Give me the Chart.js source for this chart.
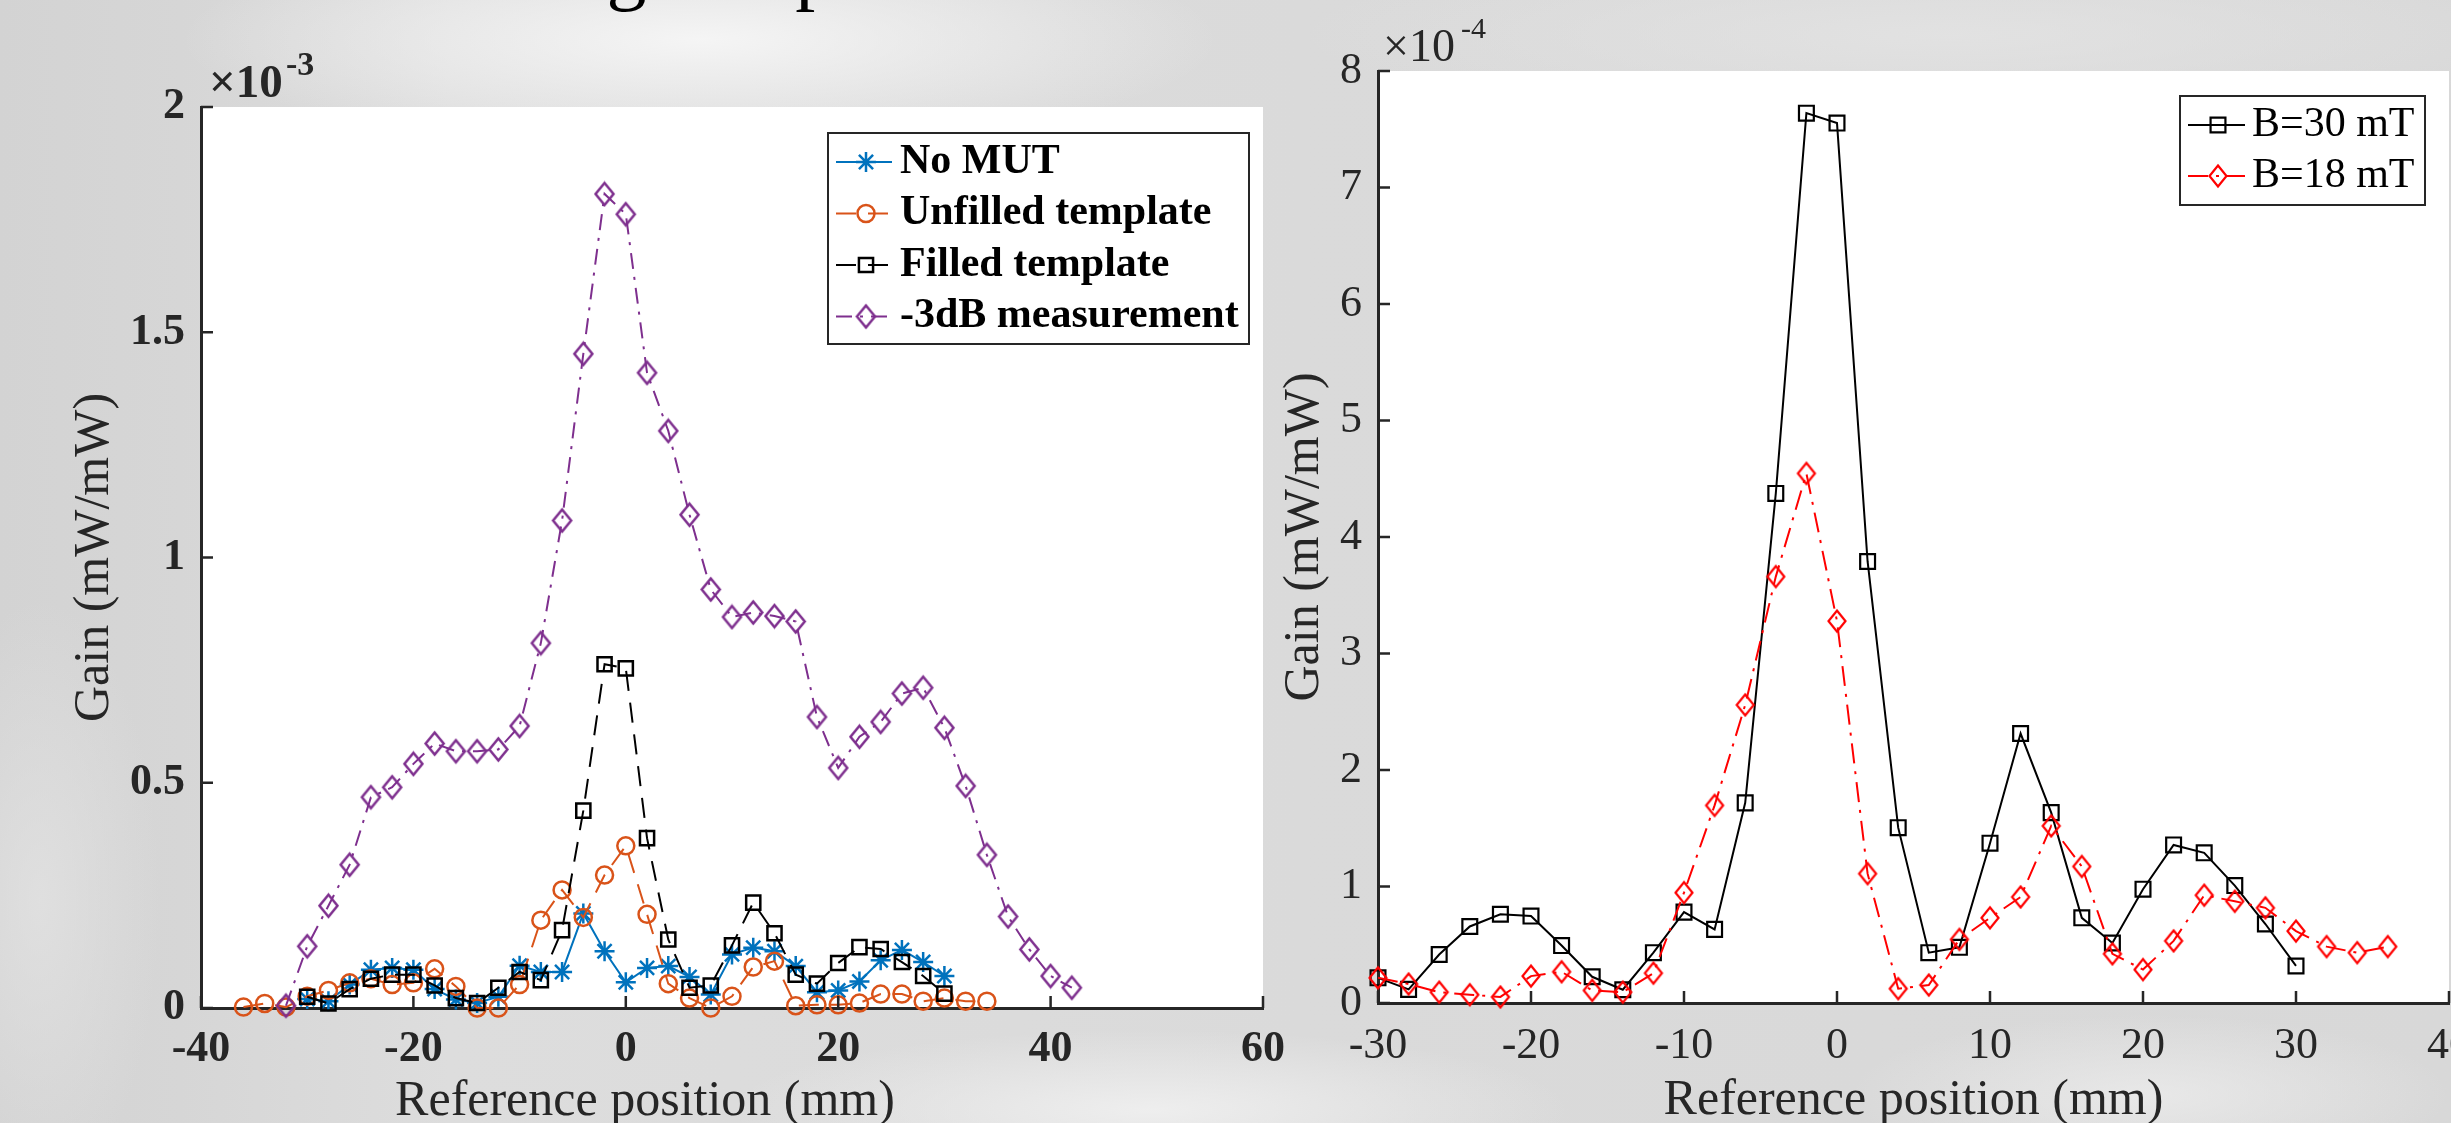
<!DOCTYPE html>
<html>
<head>
<meta charset="utf-8">
<script src="https://cdn.jsdelivr.net/npm/chart.js@4.4.1/dist/chart.umd.min.js"></script>
<style>
  html, body { margin: 0; padding: 0; width: 2451px; height: 1123px; overflow: hidden; }
  body {
    position: relative;
    background:
      radial-gradient(ellipse 520px 110px at 700px 40px, rgba(246,246,246,0.95), rgba(246,246,246,0)),
      radial-gradient(ellipse 420px 80px at 1150px 1110px, rgba(240,240,240,0.9), rgba(240,240,240,0)),
      radial-gradient(ellipse 300px 80px at 2150px 1095px, rgba(236,236,236,0.8), rgba(236,236,236,0)),
      radial-gradient(ellipse 650px 90px at 1950px 35px, rgba(228,228,228,0.8), rgba(228,228,228,0)),
      radial-gradient(ellipse 120px 300px at 40px 900px, rgba(226,226,226,0.8), rgba(226,226,226,0)),
      linear-gradient(90deg, #d3d3d3 0px, #d6d6d6 180px, #dddddd 450px, #dadada 1300px, #d8d8d8 2451px);
  }
  #title { position: absolute; left: 412px; top: -72px; font: 80px "Liberation Serif", serif; line-height: 80px; color: #000; white-space: nowrap; }
  canvas { position: absolute; top: 0; }
  #left { left: 0; }
  #right { left: 1250px; }
</style>
</head>
<body>
<div id="title">Testing setup</div>
<canvas id="left" width="1300" height="1123"></canvas>
<canvas id="right" width="1300" height="1126"></canvas>
<script>
// ---- left panel data (gain in units of 1e-3 mW/mW) ----
var posNoMut = [-30,-28,-26,-24,-22,-20,-18,-16,-14,-12,-10,-8,-6,-4,-2,0,2,4,6,8,10,12,14,16,18,20,22,24,26,28,30];
var gainNoMut = [0.020,0.015,0.052,0.085,0.089,0.085,0.042,0.019,0.011,0.025,0.094,0.080,0.080,0.210,0.126,0.057,0.089,0.093,0.069,0.030,0.119,0.134,0.126,0.093,0.035,0.039,0.059,0.106,0.129,0.102,0.071];

var posUnfilled = [-36,-34,-32,-30,-28,-26,-24,-22,-20,-18,-16,-14,-12,-10,-8,-6,-4,-2,0,2,4,6,8,10,12,14,16,18,20,22,24,26,28,30,32,34];
var gainUnfilled = [0.002,0.010,0.002,0.026,0.039,0.056,0.065,0.052,0.056,0.087,0.048,0.000,0.000,0.052,0.195,0.262,0.201,0.295,0.360,0.208,0.054,0.022,0.000,0.026,0.091,0.104,0.005,0.007,0.007,0.011,0.031,0.031,0.015,0.022,0.015,0.015];

var posFilled = [-30,-28,-26,-24,-22,-20,-18,-16,-14,-12,-10,-8,-6,-4,-2,0,2,4,6,8,10,12,14,16,18,20,22,24,26,28,30];
var gainFilled = [0.025,0.010,0.042,0.065,0.074,0.074,0.050,0.022,0.011,0.045,0.080,0.062,0.173,0.438,0.763,0.754,0.377,0.152,0.045,0.050,0.139,0.234,0.166,0.074,0.054,0.100,0.135,0.131,0.102,0.071,0.032];

var posMeas = [-32,-30,-28,-26,-24,-22,-20,-18,-16,-14,-12,-10,-8,-6,-4,-2,0,2,4,6,8,10,12,14,16,18,20,22,24,26,28,30,32,34,36,38,40,42];
var gainMeas = [0.005,0.137,0.227,0.318,0.468,0.490,0.542,0.587,0.570,0.570,0.574,0.626,0.810,1.082,1.452,1.807,1.762,1.410,1.281,1.095,0.929,0.868,0.878,0.870,0.858,0.646,0.533,0.602,0.635,0.698,0.711,0.622,0.493,0.340,0.203,0.130,0.071,0.045];

// ---- right panel data (gain in units of 1e-4 mW/mW) ----
var posB30 = [-30,-28,-26,-24,-22,-20,-18,-16,-14,-12,-10,-8,-6,-4,-2,0,2,4,6,8,10,12,14,16,18,20,22,24,26,28,30];
var gainB30 = [0.216,0.117,0.416,0.657,0.762,0.746,0.493,0.225,0.114,0.432,0.780,0.632,1.718,4.374,7.638,7.553,3.790,1.505,0.432,0.478,1.372,2.313,1.634,0.731,0.515,0.977,1.357,1.289,1.008,0.678,0.318];

var posB18 = [-30,-28,-26,-24,-22,-20,-18,-16,-14,-12,-10,-8,-6,-4,-2,0,2,4,6,8,10,12,14,16,18,20,22,24,26,28,30,32,34,36];
var gainB18 = [0.216,0.163,0.093,0.071,0.052,0.231,0.268,0.108,0.093,0.256,0.947,1.696,2.559,3.660,4.546,3.278,1.110,0.123,0.154,0.546,0.731,0.910,1.520,1.172,0.422,0.287,0.533,0.925,0.873,0.817,0.617,0.484,0.432,0.484];

var leftTicksX = [-40, 60, 20];   // min, max, step
var leftTicksY = [0, 2, 0.5];
var rightTicksX = [-30, 40, 10];
var rightTicksY = [0, 8, 1];

var SERIF = 'Liberation Serif';
var INK = '#262626';

// matlab diamonds are a bit taller than wide
function diamond(w, h, color, lw) {
  var c = document.createElement('canvas');
  c.width = Math.ceil(w + lw * 2);
  c.height = Math.ceil(h + lw * 2);
  var g = c.getContext('2d');
  var cx = c.width / 2, cy = c.height / 2;
  g.strokeStyle = color;
  g.lineWidth = lw;
  g.beginPath();
  g.moveTo(cx, cy - h / 2);
  g.lineTo(cx + w / 2, cy);
  g.lineTo(cx, cy + h / 2);
  g.lineTo(cx - w / 2, cy);
  g.closePath();
  g.stroke();
  return c;
}

function series(label, xs, ys, color, style, r, dash, order) {
  return {
    label: label,
    data: xs.map(function (x, i) { return { x: x, y: ys[i] }; }),
    borderColor: color,
    borderWidth: 2,
    borderDash: dash,
    pointStyle: style,
    pointRadius: r,
    pointHoverRadius: r,
    pointBorderColor: color,
    pointBackgroundColor: 'rgba(0,0,0,0)',
    pointBorderWidth: 2.5,
    fill: false,
    tension: 0,
    clip: false,
    order: order
  };
}

// white plot background
var plotBg = {
  id: 'plotBg',
  beforeDraw: function (chart) {
    var a = chart.chartArea, ctx = chart.ctx;
    ctx.save();
    ctx.fillStyle = '#ffffff';
    ctx.fillRect(a.left, a.top, a.right - a.left, a.bottom - a.top);
    ctx.restore();
  }
};

// matlab style ticks pointing into the plot
var inwardTicks = {
  id: 'inwardTicks',
  afterDraw: function (chart) {
    var a = chart.chartArea, ctx = chart.ctx, sx = chart.scales.x, sy = chart.scales.y;
    ctx.save();
    ctx.strokeStyle = INK;
    ctx.lineWidth = 2.5;
    ctx.beginPath();
    sx.ticks.forEach(function (t) {
      var px = sx.getPixelForValue(t.value);
      ctx.moveTo(px, a.bottom);
      ctx.lineTo(px, a.bottom - 12);
    });
    sy.ticks.forEach(function (t) {
      var py = sy.getPixelForValue(t.value);
      ctx.moveTo(a.left, py);
      ctx.lineTo(a.left + 12, py);
    });
    ctx.stroke();
    ctx.restore();
  }
};

function boxLegend(box) {
  return {
    id: 'boxLegend',
    afterDraw: function (chart) {
      var ctx = chart.ctx;
      ctx.save();
      ctx.fillStyle = '#ffffff';
      ctx.fillRect(box.x, box.y, box.w, box.h);
      ctx.strokeStyle = INK;
      ctx.lineWidth = 2;
      ctx.strokeRect(box.x, box.y, box.w, box.h);
      chart.data.datasets.forEach(function (d, i) {
        var y = box.rows[i];
        ctx.strokeStyle = d.borderColor;
        ctx.lineWidth = d.borderWidth;
        ctx.setLineDash(d.borderDash || []);
        ctx.beginPath();
        ctx.moveTo(box.x0, y);
        ctx.lineTo(box.x1, y);
        ctx.stroke();
        ctx.setLineDash([]);
        ctx.strokeStyle = d.pointBorderColor;
        ctx.fillStyle = 'rgba(0,0,0,0)';
        ctx.lineWidth = d.pointBorderWidth;
        Chart.helpers.drawPoint(ctx, { pointStyle: d.pointStyle, radius: d.pointRadius, borderWidth: d.pointBorderWidth, rotation: 0 }, box.mx, y);
        ctx.fillStyle = '#000000';
        ctx.font = box.font;
        ctx.textAlign = 'left';
        ctx.textBaseline = 'middle';
        ctx.fillText(d.label, box.tx, y);
      });
      ctx.restore();
    }
  };
}

function textBits(items) {
  return {
    id: 'textBits',
    afterDraw: function (chart) {
      var ctx = chart.ctx;
      ctx.save();
      ctx.fillStyle = INK;
      ctx.textBaseline = 'alphabetic';
      items.forEach(function (it) {
        ctx.font = it.font;
        ctx.textAlign = it.align || 'left';
        ctx.fillText(it.text, it.x, it.y);
      });
      ctx.restore();
    }
  };
}

function axisOpts(ticks, font, pad, fitFn) {
  return {
    type: 'linear',
    min: ticks[0], max: ticks[1],
    ticks: {
      stepSize: ticks[2], padding: pad, font: font, color: INK, autoSkip: false, maxRotation: 0,
      callback: function (v) { return String(Math.round(v * 100) / 100); }
    },
    grid: { display: false, drawTicks: false },
    border: { display: true, color: INK, width: 3 },
    afterFit: fitFn
  };
}

// ---------- left chart ----------
var boldTick = { family: SERIF, size: 44, weight: 'bold', lineHeight: 1.2 };
var leftX = axisOpts(leftTicksX, boldTick, 15, function (s) { s.height = 115; });
var leftY = axisOpts(leftTicksY, boldTick, 16, function (s) { s.width = 201; });
leftY.title = { display: true, text: 'Gain (mW/mW)', color: INK, font: { family: SERIF, size: 50, lineHeight: 1 }, padding: { top: 70, bottom: 0 } };

new Chart(document.getElementById('left'), {
  type: 'line',
  data: {
    datasets: [
      series('No MUT', posNoMut, gainNoMut, '#0072BD', 'star', 10, [], 4),
      series('Unfilled template', posUnfilled, gainUnfilled, '#D95319', 'circle', 8.5, [20, 12], 3),
      series('Filled template', posFilled, gainFilled, '#000000', 'rect', 10, [20, 12], 2),
      series('-3dB measurement', posMeas, gainMeas, '#7E2F8E', diamond(18, 22, '#7E2F8E', 2.5), 10, [16, 8, 3, 8], 1)
    ]
  },
  options: {
    responsive: false,
    animation: false,
    devicePixelRatio: 1,
    layout: { padding: { top: 107, right: 27, bottom: 0, left: 0 } },
    plugins: { legend: { display: false }, tooltip: { enabled: false } },
    scales: { x: leftX, y: leftY }
  },
  plugins: [
    plotBg, inwardTicks,
    boxLegend({ x: 828, y: 133, w: 421, h: 211, rows: [162, 213.5, 265, 316.5], x0: 836, x1: 892, mx: 866, tx: 900, font: 'bold 42px "Liberation Serif"' }),
    textBits([
      { text: '\u00d710', x: 209, y: 97, font: 'bold 47px "Liberation Serif"' },
      { text: '-3', x: 286, y: 75, font: 'bold 34px "Liberation Serif"' },
      { text: 'Reference position (mm)', x: 645, y: 1115, align: 'center', font: '50px "Liberation Serif"' }
    ])
  ]
});

// ---------- right chart (canvas offset 1250px) ----------
var plainTick = { family: SERIF, size: 44, lineHeight: 1.2 };
var rightX = axisOpts(rightTicksX, plainTick, 17, function (s) { s.height = 123; });
rightX.title = { display: true, text: 'Reference position (mm)', color: INK, font: { family: SERIF, size: 50, lineHeight: 1 }, padding: { top: 0, bottom: 0 } };
var rightY = axisOpts(rightTicksY, plainTick, 16, function (s) { s.width = 128; });
rightY.title = { display: true, text: 'Gain (mW/mW)', color: INK, font: { family: SERIF, size: 50, lineHeight: 1 }, padding: { top: 30, bottom: 0 } };

var b30 = series('B=30 mT', posB30, gainB30, '#000000', 'rect', 10.5, [], 2);
var b18 = series('B=18 mT', posB18, gainB18, '#FF0000', diamond(17, 21, '#FF0000', 2.2), 10, [20, 8, 3, 8], 1);
b30.pointBorderWidth = 2.2;
b18.pointBorderWidth = 2.2;

new Chart(document.getElementById('right'), {
  type: 'line',
  data: { datasets: [b30, b18] },
  options: {
    responsive: false,
    animation: false,
    devicePixelRatio: 1,
    layout: { padding: { top: 71, right: 101, bottom: 0, left: 0 } },
    plugins: { legend: { display: false }, tooltip: { enabled: false } },
    scales: { x: rightX, y: rightY }
  },
  plugins: [
    plotBg, inwardTicks,
    boxLegend({ x: 930, y: 96, w: 245, h: 109, rows: [125, 176], x0: 938, x1: 995, mx: 968, tx: 1002, font: '42px "Liberation Serif"' }),
    textBits([
      { text: '\u00d710', x: 133, y: 61, font: '46px "Liberation Serif"' },
      { text: '-4', x: 211, y: 38, font: '30px "Liberation Serif"' }
    ])
  ]
});
</script>
</body>
</html>
